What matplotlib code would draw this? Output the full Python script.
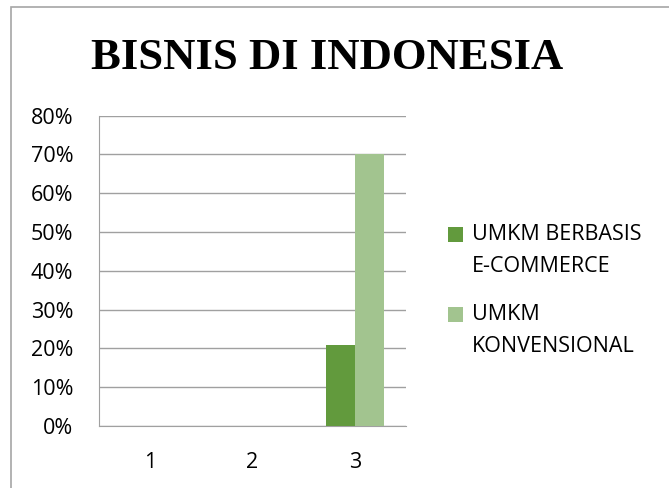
import matplotlib
matplotlib.use('Agg')
import matplotlib.pyplot as plt
from matplotlib.patches import Rectangle
from matplotlib.container import BarContainer
from matplotlib.legend_handler import HandlerPatch, update_from_first_child
from matplotlib.ticker import PercentFormatter
import numpy as np

categories = ['1', '2', '3']
ecommerce = [0, 0, 21]
konvensional = [0, 0, 70]
series_labels = ['UMKM BERBASIS\nE-COMMERCE', 'UMKM\nKONVENSIONAL']
yticks = [0, 10, 20, 30, 40, 50, 60, 70, 80]

plt.rcParams['font.family'] = ['Open Sans', 'DejaVu Sans']

fig = plt.figure(figsize=(6.69, 4.88), dpi=100)
# chart frame, cut off on the right and at the bottom like the source
fig.patches.append(Rectangle((11 / 669, -0.1), 1.0, 1.1 - 7 / 488, transform=fig.transFigure,
                             fill=False, edgecolor='#A6A6A6', linewidth=1.2))

ax = fig.add_axes([0.148, 0.127, 0.459, 0.636])
x = np.arange(len(categories))
w = 0.285
ax.bar(x - w / 2, ecommerce, w, color='#629A3D', label=series_labels[0], zorder=3)
ax.bar(x + w / 2, konvensional, w, color='#A2C48F', label=series_labels[1], zorder=3)

ax.set_xlim(-0.5, 2.5)
ax.set_ylim(0, 80)
ax.set_yticks(yticks)
ax.yaxis.set_major_formatter(PercentFormatter(decimals=0))
ax.set_xticks(x)
ax.set_xticklabels(categories)
ax.grid(axis='y', color='#A0A0A0', linewidth=1)
ax.tick_params(axis='both', length=0, labelsize=15.5, colors='black')
ax.tick_params(axis='y', pad=18.5)
ax.tick_params(axis='x', pad=19)
for s in ['top', 'right']:
    ax.spines[s].set_visible(False)
for s in ['left', 'bottom']:
    ax.spines[s].set_color('#A0A0A0')

fig.text(327 / 669, 1 - 69 / 488, 'BISNIS DI INDONESIA', ha='center', va='baseline',
         fontsize=32.2, fontweight='bold', family='Liberation Serif')


# legend square sits next to the first line of a two-line label
def top_square(legend, orig_handle, xdescent, ydescent, width, height, fontsize):
    return Rectangle((-xdescent, -ydescent + 0.75 * fontsize), width, height)


leg = fig.legend(loc='upper left', bbox_to_anchor=(448 / 669, 1 - 224 / 488), frameon=False,
                 fontsize=15.5, handlelength=0.7, handleheight=0.7, handletextpad=0.42,
                 labelspacing=1.25, borderpad=0, borderaxespad=0,
                 handler_map={BarContainer: HandlerPatch(patch_func=top_square,
                                                         update_func=update_from_first_child)})
for t in leg.get_texts():
    t.set_linespacing(1.68)

fig.savefig('out.png', dpi=100)
